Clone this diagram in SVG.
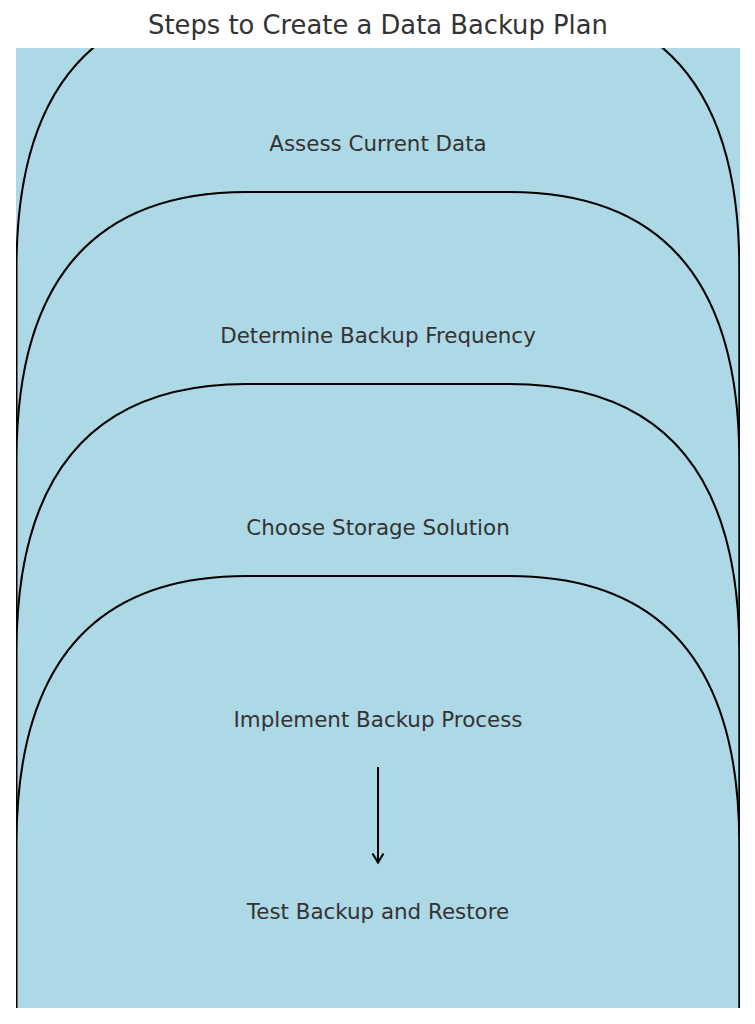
<svg xmlns="http://www.w3.org/2000/svg" width="755" height="1024" viewBox="0 0 755 1024">
  <style>
    .box { fill: #add8e6; stroke: #000; stroke-width: 2; }
    .label { font-family: "DejaVu Sans", "Liberation Sans", sans-serif; font-size: 21.4px; fill: #333333; text-anchor: middle; }
    .title { font-family: "DejaVu Sans", "Liberation Sans", sans-serif; font-size: 25.8px; fill: #333333; text-anchor: middle; }
    .conn { fill: none; stroke: #000; stroke-width: 2; }
  </style>
  <defs>
    <clipPath id="axes">
      <rect x="16" y="48" width="724" height="960"/>
    </clipPath>
    <marker id="arrowhead" viewBox="-10 -7 12 14" markerWidth="12" markerHeight="14" refX="0" refY="0" orient="auto" markerUnits="userSpaceOnUse">
      <path d="M-9,-5.5 L0,0 L-9,5.5" fill="none" stroke="#000" stroke-width="2"/>
    </marker>
  </defs>
  <rect x="0" y="0" width="755" height="1024" fill="#ffffff"/>
  <text class="title" x="378" y="33.5">Steps to Create a Data Backup Plan</text>
  <g clip-path="url(#axes)">
    <rect x="16" y="48" width="724" height="960" fill="#add8e6"/>
    <g id="node-1">
      <path class="box" d="M16.5,1030 L16.5,268 Q16.5,0 246.5,0 L509.3,0 Q739.3,0 739.3,268 L739.3,1030"/>
      <text class="label" x="378" y="150.5">Assess Current Data</text>
    </g>
    <g id="node-2">
      <path class="box" d="M16.5,1030 L16.5,460 Q16.5,192 246.5,192 L509.3,192 Q739.3,192 739.3,460 L739.3,1030"/>
      <text class="label" x="378" y="342.5">Determine Backup Frequency</text>
    </g>
    <g id="node-3">
      <path class="box" d="M16.5,1030 L16.5,652 Q16.5,384 246.5,384 L509.3,384 Q739.3,384 739.3,652 L739.3,1030"/>
      <text class="label" x="378" y="534.5">Choose Storage Solution</text>
    </g>
    <g id="node-4">
      <path class="box" d="M16.5,1030 L16.5,844 Q16.5,576 246.5,576 L509.3,576 Q739.3,576 739.3,844 L739.3,1030"/>
      <text class="label" x="378" y="726.5">Implement Backup Process</text>
    </g>
    <g id="node-5">
      <text class="label" x="378" y="918.5">Test Backup and Restore</text>
    </g>
    <g id="connectors">
      <path class="conn" d="M378,767 L378,862.5" marker-end="url(#arrowhead)"/>
    </g>
  </g>
</svg>
